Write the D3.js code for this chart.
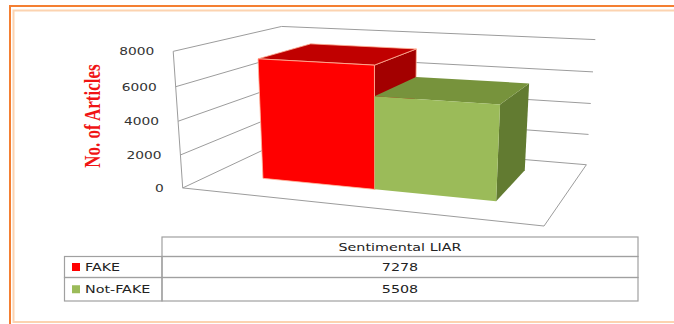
<!DOCTYPE html>
<html><head><meta charset="utf-8">
<script src="https://cdn.jsdelivr.net/npm/d3@7"></script>
<style>html,body{margin:0;padding:0;background:#fff;}svg{display:block;}</style>
</head><body>
<svg id="c" width="674" height="324"></svg>
<script>
// ---------- data ----------
const categories = ["Sentimental LIAR"];
const seriesNames = ["FAKE", "Not-FAKE"];
const fakeValues = [7278];
const notFakeValues = [5508];
const yTicks = [0, 2000, 4000, 6000, 8000];
const yAxisTitle = "No. of Articles";

// ---------- styles ----------
const faceColors = {
  "FAKE": {front: "#ff0000", top: "#c00000", side: "#a30000", stroke: "#ffb59a"},
  "Not-FAKE": {front: "#9bbb59", top: "#77933c", side: "#627b31", stroke: "none"}
};
const gridColor = "#9c9c9c";

// ---------- projection (plot box frame calibration: u,v,w -> screen) ----------
const frameCal = [
  [0,1,0,173,51],[0,0.75,0,175.5,86],[0,0.5,0,178,121],[0,0.25,0,180.5,155],[0,0,0,183,188],
  [0,1,1,282,27],[0,0,1,285,140],
  [1,1,1,596,39],[1,0.75,1,593,72],[1,0.5,1,591,103],[1,0.25,1,588,134],[1,0,1,586,165],
  [1,0,0,545,226],[1,1,0,552,73]
];
function fitCamera(pts){
  const mx = d3.mean(pts,p=>p[3]), my = d3.mean(pts,p=>p[4]), s = 100;
  const rows=[], rhs=[];
  pts.forEach(([X,Y,Z,x,y])=>{
    const xn=(x-mx)/s, yn=(y-my)/s;
    rows.push([X,Y,Z,1,0,0,0,0,-xn*X,-xn*Y,-xn*Z]); rhs.push(xn);
    rows.push([0,0,0,0,X,Y,Z,1,-yn*X,-yn*Y,-yn*Z]); rhs.push(yn);
  });
  const n=11, M=[];
  for(let i=0;i<n;i++){M.push(new Array(n+1).fill(0));}
  rows.forEach((r,k)=>{for(let i=0;i<n;i++){for(let j=0;j<n;j++)M[i][j]+=r[i]*r[j];M[i][n]+=r[i]*rhs[k];}});
  for(let c=0;c<n;c++){
    let piv=c;for(let r=c+1;r<n;r++)if(Math.abs(M[r][c])>Math.abs(M[piv][c]))piv=r;
    [M[c],M[piv]]=[M[piv],M[c]];
    for(let r=0;r<n;r++){if(r===c)continue;const f=M[r][c]/M[c][c];for(let j=c;j<=n;j++)M[r][j]-=f*M[c][j];}
  }
  const p=M.map((r,i)=>r[n]/r[i]);
  return (X,Y,Z)=>{const d=p[8]*X+p[9]*Y+p[10]*Z+1;
    return [(p[0]*X+p[1]*Y+p[2]*Z+p[3])/d*s+mx,(p[4]*X+p[5]*Y+p[6]*Z+p[7])/d*s+my];};
}
const proj = fitCamera(frameCal);

// ---------- scales ----------
const vScale = d3.scaleLinear().domain([0, 8000]).range([0, 1]);
const uCat = d3.scaleBand().domain(categories).range([0, 1]).paddingOuter(0.235).paddingInner(0);
const uSer = d3.scaleBand().domain(seriesNames).range([uCat(categories[0]), uCat(categories[0]) + uCat.bandwidth()]);
const wFront = 0.26, wBack = 0.8;

const svg = d3.select("#c");
const line = d3.line();

// ---------- outer frame ----------
svg.append("line").attr("x1",9).attr("x2",674).attr("y1",6).attr("y2",6).attr("stroke","#f47f32").attr("stroke-width",2);
svg.append("line").attr("x1",10).attr("x2",10).attr("y1",5).attr("y2",324).attr("stroke","#f47f32").attr("stroke-width",2);
svg.append("path").attr("d","M674,10.5H13.5V322H674").attr("fill","none").attr("stroke","#fcd3b0").attr("stroke-width",2);

// ---------- walls / gridlines ----------
const g3 = svg.append("g");
yTicks.forEach(t=>{
  const v=vScale(t);
  g3.append("path").attr("d",line([proj(0,v,0),proj(0,v,1),proj(1,v,1)]))
    .attr("fill","none").attr("stroke",gridColor).attr("stroke-width",1);
});
g3.append("path").attr("d",line([proj(0,vScale(8000),0),proj(0,0,0),proj(1,0,0),proj(1,0,1)]))
  .attr("fill","none").attr("stroke",gridColor).attr("stroke-width",1);

// tick labels
yTicks.forEach(t=>{
  const [x,y]=proj(0,vScale(t),0);
  svg.append("text").attr("transform",`translate(${x-19},${y+4}) scale(1.25,1)`)
    .attr("text-anchor","end").attr("font-family","DejaVu Sans").attr("font-size",11)
    .attr("fill","#333").text(t);
});
// axis title
svg.append("text").attr("transform","translate(100,116) scale(1.3,1) rotate(-90)")
  .attr("text-anchor","middle").attr("font-family","Liberation Serif").attr("font-weight","bold")
  .attr("font-size",17).attr("fill","#f01414").text(yAxisTitle);

// ---------- bars ----------
const barData = seriesNames.map((name,i)=>({name, value: (i===0?fakeValues:notFakeValues)[0]}));
barData.forEach(d=>{
  const u0=uSer(d.name), u1=u0+uSer.bandwidth(), v1=vScale(d.value);
  const c=faceColors[d.name];
  const faces=[
    {pts:[[u1,0,wFront],[u1,0,wBack],[u1,v1,wBack],[u1,v1,wFront]], fill:c.side},
    {pts:[[u0,v1,wFront],[u1,v1,wFront],[u1,v1,wBack],[u0,v1,wBack]], fill:c.top},
    {pts:[[u0,0,wFront],[u1,0,wFront],[u1,v1,wFront],[u0,v1,wFront]], fill:c.front}
  ];
  faces.forEach(f=>{
    svg.append("path").attr("d",line(f.pts.map(p=>proj(...p)))+"Z")
      .attr("fill",f.fill).attr("stroke",c.stroke).attr("stroke-width",0.8).attr("stroke-linejoin","round");
  });
});

// ---------- data table ----------
const tbl = svg.append("g").attr("font-family","DejaVu Sans").attr("font-size",11).attr("fill","#222");
const tb = {x0:64.5, x1:162, x2:638, yHead:237, rowH:[256.5,277.5,301]};
tbl.append("rect").attr("x",tb.x1).attr("y",tb.yHead).attr("width",tb.x2-tb.x1).attr("height",tb.rowH[0]-tb.yHead)
  .attr("fill","none").attr("stroke","#a0a0a0").attr("stroke-width",1.2);
tbl.append("text").attr("transform",`translate(${(tb.x1+tb.x2)/2},${tb.yHead+13.5}) scale(1.3,1)`)
  .attr("text-anchor","middle").text(categories[0]);
barData.forEach((d,i)=>{
  const y0=tb.rowH[i], y1=tb.rowH[i+1], cy=(y0+y1)/2;
  tbl.append("rect").attr("x",tb.x0).attr("y",y0).attr("width",tb.x1-tb.x0).attr("height",y1-y0)
    .attr("fill","none").attr("stroke","#a0a0a0").attr("stroke-width",1.2);
  tbl.append("rect").attr("x",tb.x1).attr("y",y0).attr("width",tb.x2-tb.x1).attr("height",y1-y0)
    .attr("fill","none").attr("stroke","#a0a0a0").attr("stroke-width",1.2);
  tbl.append("rect").attr("x",72).attr("y",cy-4).attr("width",8).attr("height",8).attr("fill",faceColors[d.name].front);
  tbl.append("text").attr("transform",`translate(85,${cy+4}) scale(1.3,1)`).text(d.name);
  tbl.append("text").attr("transform",`translate(${(tb.x1+tb.x2)/2},${cy+4}) scale(1.3,1)`)
    .attr("text-anchor","middle").text(d.value);
});
</script>
</body></html>
